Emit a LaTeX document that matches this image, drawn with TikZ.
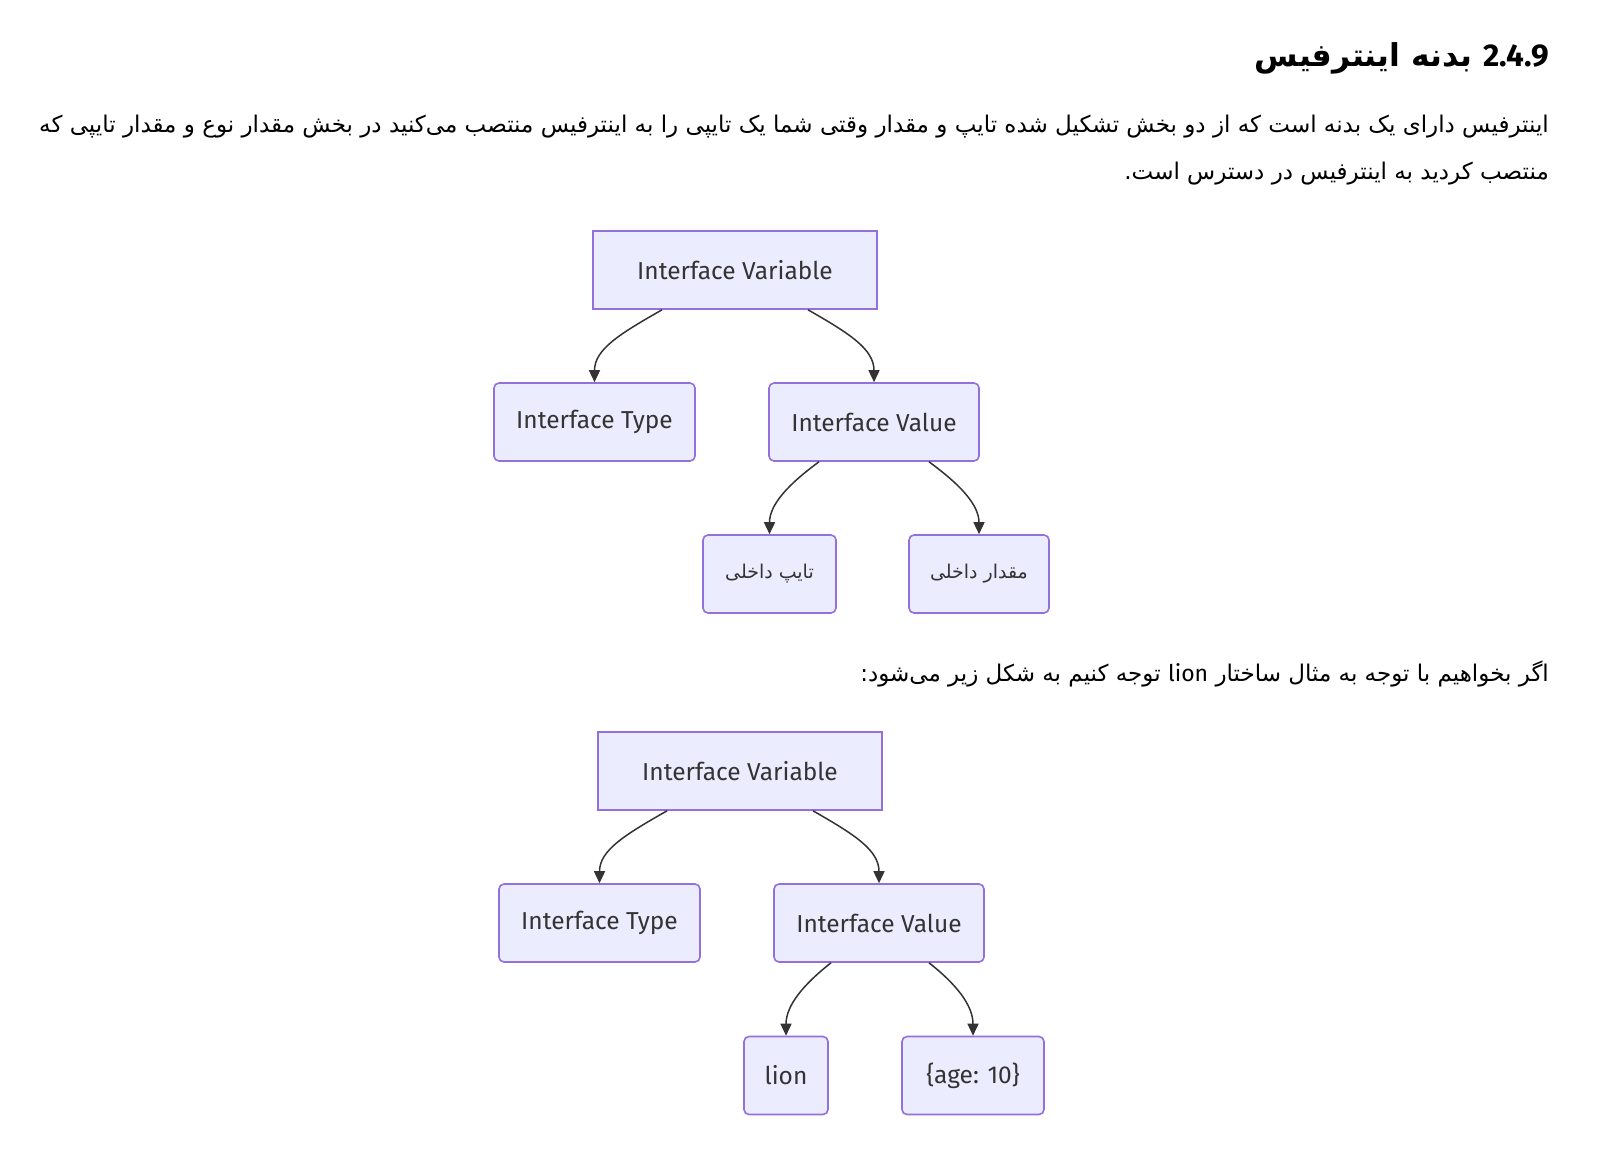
\documentclass[tikz,border=0pt]{standalone}
\usepackage{fontspec}
\setmainfont{Fira Sans}
\newfontfamily\farsi[Script=Arabic]{DejaVu Sans}
\TeXXeTstate=1
\usetikzlibrary{arrows.meta}
\definecolor{boxfill}{HTML}{ECECFF}
\definecolor{boxline}{HTML}{9370DB}
\definecolor{edgecol}{HTML}{333333}
\tikzset{
  box/.style={draw=boxline, fill=boxfill, line width=1.6pt, minimum height=78pt, text=edgecol, inner sep=0pt, font=\fontsize{24.5}{29}\selectfont},
  rbox/.style={box, rounded corners=5pt},
  edge/.style={draw=edgecol, line width=1.5pt, -{Triangle[length=12pt,width=11pt]}},
  para/.style={anchor=base east, inner sep=0pt, font=\farsi\fontsize{23}{27}\selectfont}
}
\begin{document}
\begin{tikzpicture}[x=1pt,y=-1pt]
            \useasboundingbox (0,0) rectangle (1605,1166);
            \node[para, font=\farsi\bfseries\fontsize{31.5}{36}\selectfont] (title) at (1549,67) {\beginR\beginL{\rmfamily\bfseries 2.4.9}\endL{} بدنه اینترفیس\endR};
            \node[para] (line1) at (1549,133) {\beginR اینترفیس دارای یک بدنه است که از دو بخش تشکیل شده تایپ و مقدار وقتی شما یک تایپی را به اینترفیس منتصب می‌کنید در بخش مقدار نوع و مقدار تایپی که\endR};
            \node[para] (line2) at (1549,180) {\beginR منتصب کردید به اینترفیس در دسترس است.\endR};
            \node[para] (line3) at (1549,681) {\beginR اگر بخواهیم با توجه به مثال ساختار \beginL{\rmfamily lion}\endL{} توجه کنیم به شکل زیر می‌شود:\endR};

            \node[box, minimum width=284pt] (var1) at (735,270) {Interface Variable};
            \node[rbox, minimum width=201pt] (type1) at (594.5,422) {Interface Type};
            \node[rbox, minimum width=210pt] (val1) at (874,422) {Interface Value};
            \node[rbox, minimum width=133pt, font=\farsi\fontsize{19}{23}\selectfont] (intype) at (769.5,574) {\beginR تایپ داخلی\endR};
            \node[rbox, minimum width=140pt, font=\farsi\fontsize{19}{23}\selectfont] (inval) at (979,574) {\beginR مقدار داخلی\endR};
            \draw[edge] ([xshift=-73pt]var1.south) .. controls +(-42,24) and +(0,-33) .. (type1.north);
            \draw[edge] ([xshift=73pt]var1.south) .. controls +(42,24) and +(0,-33) .. (val1.north);
            \draw[edge] ([xshift=-55pt]val1.south) .. controls +(-30,22) and +(0,-30) .. (intype.north);
            \draw[edge] ([xshift=55pt]val1.south) .. controls +(30,22) and +(0,-30) .. (inval.north);

            \node[box, minimum width=284pt] (var2) at (740,771) {Interface Variable};
            \node[rbox, minimum width=201pt] (type2) at (599.5,923) {Interface Type};
            \node[rbox, minimum width=210pt] (val2) at (879,923) {Interface Value};
            \node[rbox, minimum width=84pt] (lion) at (786,1075.5) {lion};
            \node[rbox, minimum width=142pt] (age) at (973,1075.5) {\{age: 10\}};
            \draw[edge] ([xshift=-73pt]var2.south) .. controls +(-42,24) and +(0,-33) .. (type2.north);
            \draw[edge] ([xshift=73pt]var2.south) .. controls +(42,24) and +(0,-33) .. (val2.north);
            \draw[edge] ([xshift=-48pt]val2.south) .. controls +(-28,22) and +(0,-30) .. (lion.north);
            \draw[edge] ([xshift=50pt]val2.south) .. controls +(28,22) and +(0,-30) .. (age.north);
        \end{tikzpicture}
\end{document}
